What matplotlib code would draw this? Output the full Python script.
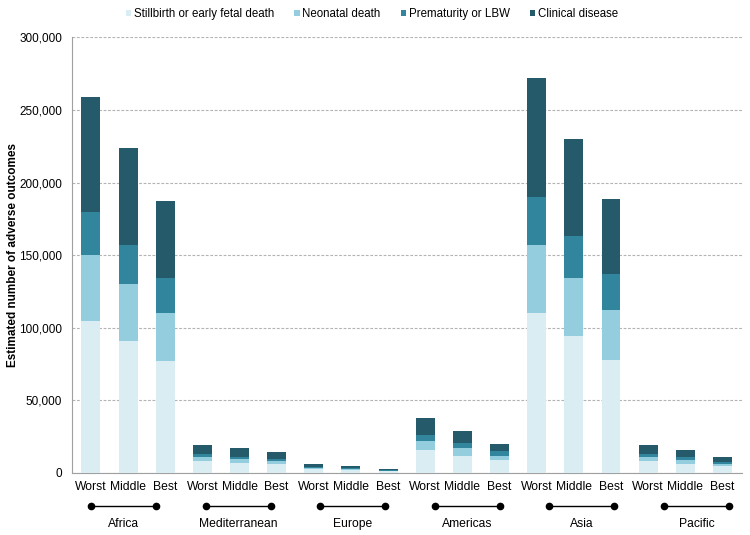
import matplotlib
matplotlib.use("Agg")
import matplotlib.pyplot as plt
from matplotlib.ticker import FuncFormatter
import numpy as np

regions = ["Africa", "Mediterranean", "Europe", "Americas", "Asia", "Pacific"]
scenarios = ["Worst", "Middle", "Best"]

# segment values per bar (Worst, Middle, Best for each region)
stillbirth = [105000, 91000, 77000, 8000, 7000, 6000, 2800, 2000, 1200,
              15500, 12000, 9000, 110000, 94000, 78000, 8000, 6500, 4500]
neonatal = [45000, 39000, 33000, 3000, 2500, 2000, 900, 700, 400,
            6500, 5000, 3000, 47000, 40000, 34000, 3000, 2500, 1800]
prematurity = [30000, 27000, 24000, 2000, 1800, 1500, 600, 500, 300,
               4000, 3500, 2800, 33000, 29000, 25000, 2000, 1700, 1300]
clinical = [79000, 66500, 53000, 6500, 5700, 5200, 2200, 1300, 600,
            12000, 8500, 5200, 82000, 67000, 52000, 6500, 4800, 3400]

series = [
    ("Stillbirth or early fetal death", stillbirth, "#daedf3"),
    ("Neonatal death", neonatal, "#94cddd"),
    ("Prematurity or LBW", prematurity, "#31869d"),
    ("Clinical disease", clinical, "#245a69"),
]

plt.rcParams['font.family'] = ['Liberation Sans', 'DejaVu Sans']

fig = plt.figure(figsize=(7.5, 5.35), dpi=100)
ax = fig.add_axes([0.096, 0.116, 0.893, 0.814])

x = np.arange(len(regions) * len(scenarios))
bottom = np.zeros(len(x))
for name, vals, color in series:
    ax.bar(x, vals, width=0.51, bottom=bottom, color=color, label=name, zorder=3)
    bottom += np.array(vals)

ax.set_xlim(-0.51, 17.52)
ax.set_ylim(0, 300000)
ax.set_yticks(np.arange(0, 300001, 50000))
ax.yaxis.set_major_formatter(FuncFormatter(lambda v, p: f"{int(v):,}"))
ax.yaxis.grid(True, linestyle=(0, (2.5, 1.5)), color="#b3b3b3", linewidth=0.8, zorder=0)
ax.set_xticks(x)
ax.set_xticklabels(scenarios * len(regions), fontsize=8.7)
ax.tick_params(axis="x", length=0, pad=6)
ax.tick_params(axis="y", length=0, labelsize=8.5, pad=7)
for s in ["top", "right"]:
    ax.spines[s].set_visible(False)
ax.spines["left"].set_color("#a0a0a0")
ax.spines["bottom"].set_color("#a0a0a0")
ax.set_ylabel("Estimated number of adverse outcomes", fontsize=8.5,
              fontweight="bold", labelpad=0.5)

# group brackets below tick labels
for i, r in enumerate(regions):
    c = 0.875 + 3.085 * i
    ax.plot([c - 0.875, c + 0.875], [-0.076, -0.076], color="black", lw=1,
            transform=ax.get_xaxis_transform(), clip_on=False,
            marker="o", markersize=4.5)
    ax.text(c, -0.118, r, transform=ax.get_xaxis_transform(),
            ha="center", va="center", fontsize=8.7)

ax.legend(loc="center", bbox_to_anchor=(0.448, 1.054), ncol=4, frameon=False,
          fontsize=8.3, handlelength=0.45, handleheight=0.45, handletextpad=0.25,
          columnspacing=1.75, borderaxespad=0)

fig.savefig("out.png", dpi=100)
